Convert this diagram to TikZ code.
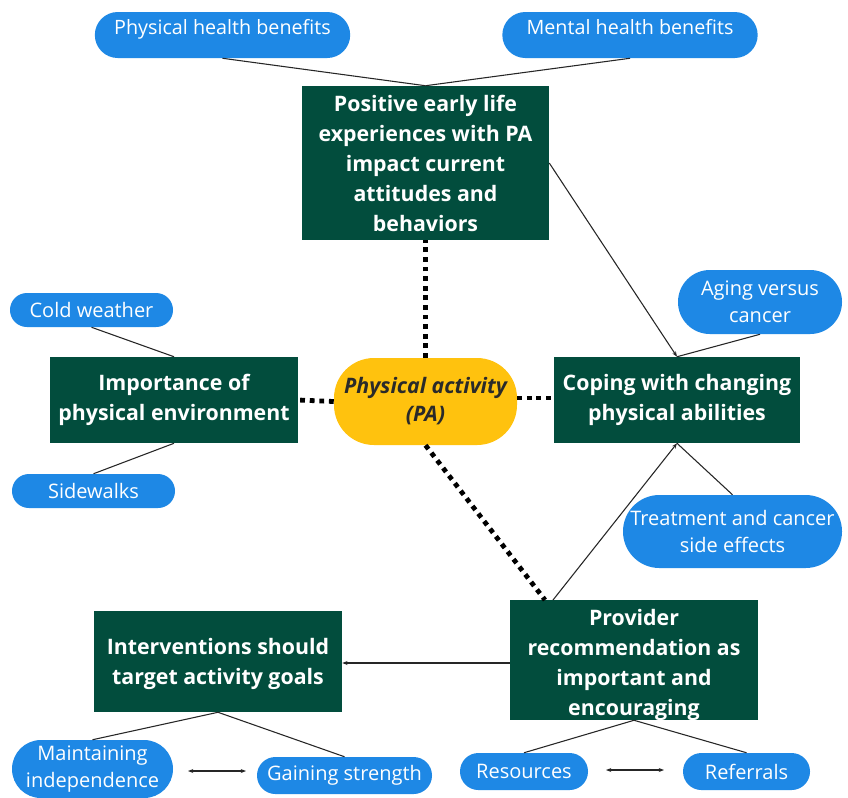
\documentclass[tikz,border=0pt]{standalone}
\usepackage{fontspec}
\setmainfont{Open Sans}
\usetikzlibrary{arrows.meta}
\definecolor{boxgreen}{HTML}{024D3D}
\definecolor{pillblue}{HTML}{1E88E5}
\definecolor{payellow}{HTML}{FFC20E}
\definecolor{patext}{HTML}{2A2A2A}
\begin{document}
\begin{tikzpicture}[x=0.75pt,y=-0.75pt,
  box/.style={fill=boxgreen, text=white, font=\fontsize{16}{22.5}\selectfont\bfseries, align=center, inner sep=0pt},
  boxtext/.style={text=white, font=\fontsize{16}{22.5}\selectfont\bfseries, align=center, inner sep=0pt},
  pill/.style={fill=pillblue, text=white, font=\fontsize{15}{20.25}\selectfont, align=center, inner sep=0pt},
  toppill/.style={pill, font=\fontsize{14.8}{20}\selectfont, text depth=12.5pt, minimum width=191.5pt, minimum height=34.5pt, rounded corners=17.2pt},
  link/.style={draw=black!85, line width=0.8pt},
  arr/.style={link, -{Stealth[length=4pt,width=3pt]}},
  darr/.style={link, {Stealth[length=4pt,width=3pt]}-{Stealth[length=4pt,width=3pt]}},
  dots/.style={draw=black, line width=3.6pt, dash pattern=on 3.6pt off 3.6pt}]
\useasboundingbox[fill=white] (0,0) rectangle (848,797);

% main boxes
\node[box, minimum width=185.25pt, minimum height=115.5pt] (pos) at (425.5,163) {Positive early life\\experiences with PA\\impact current\\attitudes and\\behaviors};
\node[box, minimum width=186pt, minimum height=64.5pt] (imp) at (174,400) {Importance of\\physical environment};
\node[box, minimum width=184.5pt, minimum height=64.5pt] (cop) at (677,400) {Coping with changing\\physical abilities};
\node[box, minimum width=186pt, minimum height=90pt] (prov) at (634,660) {};
\node[boxtext] (provtxt) at (634,665) {Provider\\recommendation as\\important and\\encouraging};
\node[box, minimum width=186pt, minimum height=75.75pt] (int) at (218,661.5) {};
\node[boxtext] (inttxt) at (218,663.5) {Interventions should\\target activity goals};
\node[fill=payellow, text=patext, font=\fontsize{16}{21}\selectfont\bfseries\itshape, align=center, inner sep=0pt,
      minimum width=137.25pt, minimum height=65.25pt, rounded corners=30pt] (pa) at (425.5,401.5) {Physical activity\\(PA)};

% pills
\node[toppill] (phb) at (222.5,35) {Physical health benefits};
\node[toppill] (mhb) at (630,35) {Mental health benefits};
\node[pill, minimum width=122.25pt, minimum height=25.5pt, rounded corners=12.7pt] (cold) at (91.5,310) {Cold weather};
\node[pill, minimum width=122.25pt, minimum height=25.5pt, rounded corners=12.7pt] (side) at (93.5,491) {Sidewalks};
\node[pill, minimum width=123pt, minimum height=48pt, rounded corners=23.9pt] (aging) at (760,302) {Aging versus\\cancer};
\node[pill, minimum width=164.25pt, minimum height=54.75pt, rounded corners=27.3pt] (treat) at (732.5,531.5) {Treatment and cancer\\side effects};
\node[pill, minimum width=120.75pt, minimum height=43.5pt, rounded corners=21.7pt] (maint) at (92.5,769) {Maintaining\\independence};
\node[pill, minimum width=131.25pt, minimum height=27.75pt, rounded corners=13.8pt] (gain) at (344.5,775.5) {Gaining strength};
\node[pill, minimum width=96pt, minimum height=27.75pt, rounded corners=13.8pt] (res) at (524,771.5) {Resources};
\node[pill, minimum width=95.25pt, minimum height=27.75pt, rounded corners=13.8pt] (ref) at (746.5,771.5) {Referrals};

% plain links
\draw[link] (phb.south) -- (pos.north);
\draw[link] (mhb.south) -- (pos.north);
\draw[link] (cold.south) -- (imp.north);
\draw[link] (imp.south) -- (side.north);
\draw[link] (aging.south) -- (cop.north);
\draw[link] (cop.south) -- (treat.north);
\draw[link] (int.south) -- (maint.north);
\draw[link] (int.south) -- (gain.north);
\draw[link] (prov.south) -- (res.north);
\draw[link] (prov.south) -- (ref.north);

% arrows
\draw[arr] (pos.east) -- (cop.north);
\coordinate (provtop) at (553,600);
\draw[arr] (provtop) -- (cop.south);
\draw[arr] (prov.west |- 0,663) -- (int.east |- 0,663);
\coordinate (d1) at (188,771);
\coordinate (d2) at (246,771);
\draw[darr] (d1) -- (d2);
\coordinate (d3) at (606,770);
\coordinate (d4) at (664,770);
\draw[darr] (d3) -- (d4);

% dotted links
\draw[dots] (pa.north) -- (pos.south);
\draw[dots] (pa.west) -- (imp.east);
\draw[dots] (pa.east |- 0,398) -- (cop.west |- 0,398);
\coordinate (provdot) at (545,600);
\draw[dots] (pa.south) -- (provdot);
\end{tikzpicture}
\end{document}
